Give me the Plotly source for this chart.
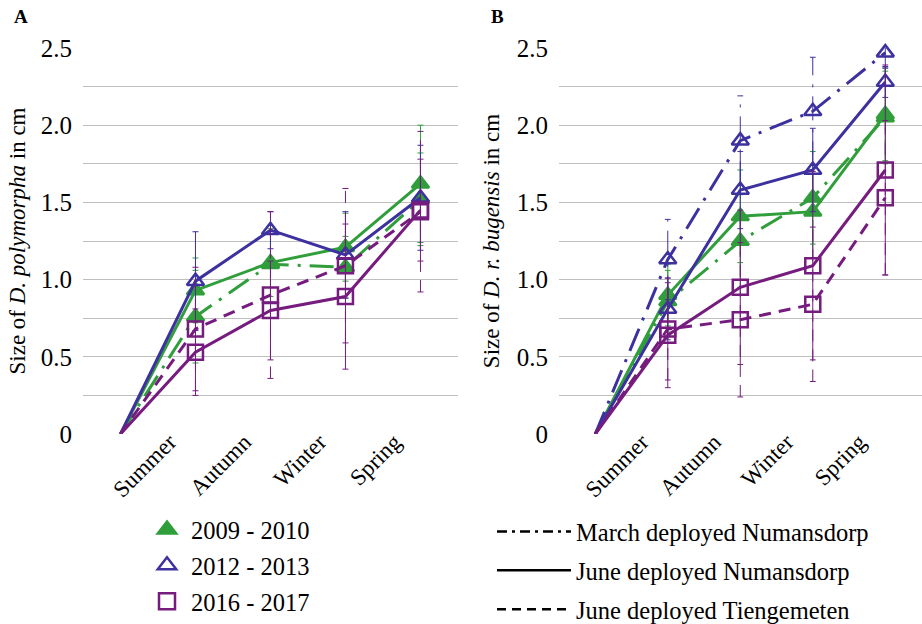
import plotly.graph_objects as go

# ---------------- data ----------------
categories = ["", "Summer", "Autumn", "Winter", "Spring"]
y_tick_values = [0, 0.25, 0.5, 0.75, 1.0, 1.25, 1.5, 1.75, 2.0, 2.25, 2.5]
y_tick_labels = ["0", "", "0.5", "", "1.0", "", "1.5", "", "2.0", "", "2.5"]

year_labels = ["2009 - 2010", "2012 - 2013", "2016 - 2017"]
deploy_labels = ["March deployed Numansdorp", "June deployed Numansdorp", "June deployed Tiengemeten"]

# Panel A: D. polymorpha
a_2009_march = [0, 0.76, 1.10, 1.08, 1.52]
a_2009_march_err = [0, 0.30, 0.25, 0.20, 0.30]
a_2009_june = [0, 0.93, 1.11, 1.21, 1.62]
a_2009_june_err = [0, 0.21, 0.22, 0.22, 0.38]
a_2012_june = [0, 0.99, 1.32, 1.16, 1.53]
a_2012_june_err = [0, 0.32, 0.12, 0.28, 0.34]
a_2016_june = [0, 0.53, 0.80, 0.89, 1.45]
a_2016_june_err = [0, 0.28, 0.32, 0.47, 0.33]
a_2016_tieng = [0, 0.68, 0.90, 1.09, 1.44]
a_2016_tieng_err = [0, 0.40, 0.54, 0.50, 0.52]

# Panel B: D. r. bugensis
b_2009_march = [0, 0.86, 1.25, 1.53, 2.05]
b_2009_march_err = [0, 0.20, 0.30, 0.30, 0.30]
b_2009_june = [0, 0.90, 1.41, 1.44, 2.07]
b_2009_june_err = [0, 0.20, 0.30, 0.30, 0.30]
b_2012_march = [0, 1.13, 1.90, 2.09, 2.47]
b_2012_march_err = [0, 0.26, 0.29, 0.35, 0.10]
b_2012_june = [0, 0.81, 1.58, 1.71, 2.28]
b_2012_june_err = [0, 0.20, 0.25, 0.27, 0.10]
b_2016_june = [0, 0.64, 0.95, 1.09, 1.71]
b_2016_june_err = [0, 0.34, 0.50, 0.61, 0.68]
b_2016_tieng = [0, 0.68, 0.74, 0.84, 1.53]
b_2016_tieng_err = [0, 0.33, 0.50, 0.50, 0.50]

# ---------------- style ----------------
GREEN = "#2f9e3b"
BLUE = "#3d31a0"
PURPLE = "#761c7e"
GRID = "#bfbfbf"
FONT = "Liberation Serif"
DASHDOT = "24px,9px,3px,9px"
DASHED = "12px,8px"

W, H = 922, 624
MT, MB = 48, 190
PH = H - MT - MB

sym = {GREEN: "triangle-up", BLUE: "triangle-up-open", PURPLE: "square-open"}

xs = list(range(len(categories)))

fig = go.Figure()


def err_segments(x, y, e, cap=0.04):
    ex, ey = [], []
    for xi, yi, ei in zip(x, y, e):
        if ei <= 0:
            continue
        ex += [xi, xi, None, xi - cap, xi + cap, None, xi - cap, xi + cap, None]
        ey += [yi - ei, yi + ei, None, yi - ei, yi - ei, None, yi + ei, yi + ei, None]
    return ex, ey


def add_series(vals, errs, color, dash, xa, ya):
    ex, ey = err_segments(xs, vals, errs)
    fig.add_trace(go.Scatter(x=ex, y=ey, mode="lines", xaxis=xa, yaxis=ya,
                             line=dict(color=color, width=1, dash=dash),
                             showlegend=False, hoverinfo="skip", cliponaxis=False))
    fig.add_trace(go.Scatter(
        x=xs, y=vals, mode="lines+markers", xaxis=xa, yaxis=ya,
        line=dict(color=color, width=3, dash=dash),
        marker=dict(symbol=sym[color], size=15, color=color,
                    opacity=[0, 1, 1, 1, 1],
                    line=dict(color=color, width=2.5)),
        showlegend=False, cliponaxis=False))


# Panel A
add_series(a_2009_march, a_2009_march_err, GREEN, DASHDOT, "x", "y")
add_series(a_2009_june, a_2009_june_err, GREEN, "solid", "x", "y")
add_series(a_2012_june, a_2012_june_err, BLUE, "solid", "x", "y")
add_series(a_2016_tieng, a_2016_tieng_err, PURPLE, DASHED, "x", "y")
add_series(a_2016_june, a_2016_june_err, PURPLE, "solid", "x", "y")

# Panel B
add_series(b_2009_march, b_2009_march_err, GREEN, DASHDOT, "x2", "y2")
add_series(b_2009_june, b_2009_june_err, GREEN, "solid", "x2", "y2")
add_series(b_2012_march, b_2012_march_err, BLUE, DASHDOT, "x2", "y2")
add_series(b_2012_june, b_2012_june_err, BLUE, "solid", "x2", "y2")
add_series(b_2016_tieng, b_2016_tieng_err, PURPLE, DASHED, "x2", "y2")
add_series(b_2016_june, b_2016_june_err, PURPLE, "solid", "x2", "y2")

# Legend A (years, markers)
for lbl, col in zip(year_labels, [GREEN, BLUE, PURPLE]):
    fig.add_trace(go.Scatter(x=[None], y=[None], mode="markers", name=lbl,
                             legend="legend", legendgroup=lbl,
                             marker=dict(symbol=sym[col], size=16, color=col,
                                         line=dict(color=col, width=2.5))))

# Legend B (deployment, line styles)
for lbl, dsh in zip(deploy_labels, ["10px,5px,3px,5px", "solid", "9px,6px"]):
    fig.add_trace(go.Scatter(x=[None], y=[None], mode="lines", name=lbl,
                             legend="legend2", legendgroup=lbl,
                             line=dict(color="black", width=2.5, dash=dsh)))

xcommon = dict(range=[-0.5, 4.5], tickvals=xs[1:], ticktext=categories[1:],
               tickangle=-45, showgrid=False, zeroline=False, showline=False,
               ticks="", ticklabelshift=-26, ticklabelstandoff=-11,
               tickfont=dict(family=FONT, size=23, color="black"))
ycommon = dict(range=[0, 2.5], tickvals=y_tick_values, ticktext=y_tick_labels,
               showgrid=True, gridcolor=GRID, gridwidth=1, zeroline=False,
               showline=False, ticks="", ticklabelstandoff=10,
               tickfont=dict(family=FONT, size=25, color="black"))


def px_x(p):
    return p / W


def px_y(p):
    return (H - MB - p) / PH


fig.update_layout(
    width=W, height=H,
    margin=dict(l=0, r=0, t=MT, b=MB, autoexpand=False),
    paper_bgcolor="white", plot_bgcolor="white",
    font=dict(family=FONT, color="black"),
    xaxis=dict(domain=[0.09, 0.4967], anchor="y", **xcommon),
    yaxis=dict(anchor="x",
               title=dict(text="Size of <i>D. polymorpha</i> in cm",
                          font=dict(family=FONT, size=23), standoff=8),
               **ycommon),
    xaxis2=dict(domain=[0.6063, 0.9995], anchor="y2", **xcommon),
    yaxis2=dict(anchor="x2",
                title=dict(text="Size of <i>D. r. bugensis</i> in cm",
                           font=dict(family=FONT, size=23), standoff=10),
                **ycommon),
    legend=dict(x=px_x(143), y=px_y(507),
                xanchor="left", yanchor="top", itemwidth=38, tracegroupgap=1,
                font=dict(family=FONT, size=24.5, color="black"),
                bgcolor="rgba(0,0,0,0)"),
    legend2=dict(x=px_x(492), y=px_y(509),
                 xanchor="left", yanchor="top", itemwidth=74, tracegroupgap=4,
                 font=dict(family=FONT, size=24.5, color="black"),
                 bgcolor="rgba(0,0,0,0)"),
    annotations=[
        dict(text="<b>A</b>", xref="paper", yref="paper", x=px_x(12), y=px_y(17),
             xanchor="left", yanchor="middle", showarrow=False,
             font=dict(family=FONT, size=19, color="black")),
        dict(text="<b>B</b>", xref="paper", yref="paper", x=px_x(489), y=px_y(17),
             xanchor="left", yanchor="middle", showarrow=False,
             font=dict(family=FONT, size=19, color="black")),
    ],
)

fig.write_html("out.html", config={"displayModeBar": False},
               post_script="document.body.style.margin='0px';")
